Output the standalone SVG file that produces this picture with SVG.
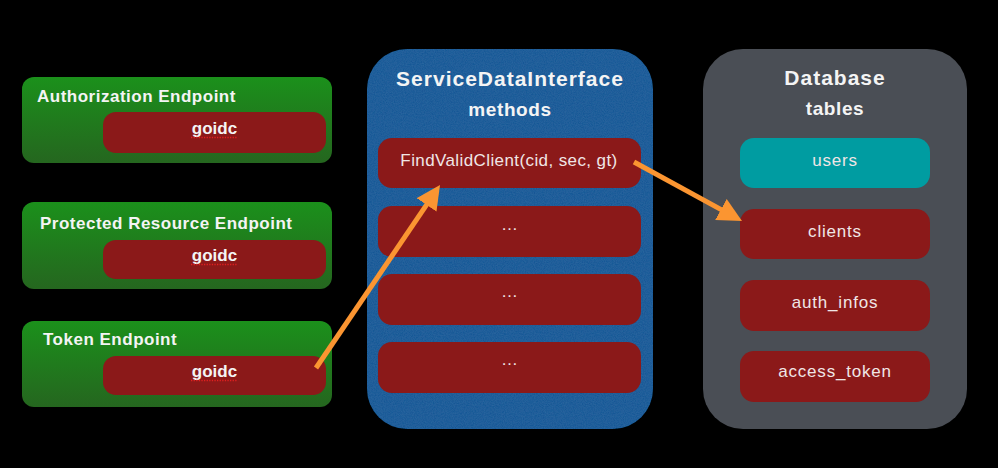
<svg xmlns="http://www.w3.org/2000/svg" width="998" height="468" viewBox="0 0 998 468">
<defs>
<style>
.bg{fill:#000}
.ep{fill:url(#greenGrad)}
.red{fill:#8b1919}
.teal{fill:#009ca1}
.ttl{font-family:"Liberation Sans",Arial,sans-serif;font-weight:bold;font-size:17px;fill:#f4f4f4;letter-spacing:0.5px}
.gd{font-family:"Liberation Sans",Arial,sans-serif;font-weight:bold;font-size:17px;fill:#f4f4f4;text-anchor:middle}
.ph{font-family:"Liberation Sans",Arial,sans-serif;font-weight:bold;font-size:21px;fill:#f4f4f4;text-anchor:middle;letter-spacing:1px}
.sub{font-family:"Liberation Sans",Arial,sans-serif;font-weight:bold;font-size:19px;fill:#f4f4f4;text-anchor:middle;letter-spacing:0.6px}
.lbl{font-family:"Liberation Sans",Arial,sans-serif;font-size:17px;fill:#f0e6e6;text-anchor:middle;letter-spacing:0.8px}
.sq{stroke:#e02020;stroke-width:1.3;stroke-dasharray:1.3 1.3;fill:none}
.conn{stroke:#fb9531;stroke-width:5;fill:none;marker-end:url(#ah)}
</style>
<linearGradient id="greenGrad" x1="0" y1="0" x2="0" y2="1">
<stop offset="0" stop-color="#1b901b"/>
<stop offset="1" stop-color="#25661f"/>
</linearGradient>
<filter id="noise" x="0" y="0" width="100%" height="100%">
<feTurbulence type="fractalNoise" baseFrequency="0.9" numOctaves="2" seed="3" result="t"/>
<feColorMatrix in="t" type="matrix" values="0 0 0 0 0.08  0 0 0 0 0.3  0 0 0 0 0.55  0 0 0 0.25 -0.05" result="n"/>
<feComposite in="n" in2="SourceGraphic" operator="in" result="nc"/>
<feMerge><feMergeNode in="SourceGraphic"/><feMergeNode in="nc"/></feMerge>
</filter>
<marker id="ah" viewBox="0 0 24 24" markerWidth="24" markerHeight="24" refX="6" refY="12" orient="auto" markerUnits="userSpaceOnUse">
<path d="M0,0 L24,12 L0,24 Z" fill="#fb9531"/>
</marker>
</defs>
<rect class="bg" x="0" y="0" width="998" height="468"/>

<g id="authorization-endpoint">
<rect class="ep" x="22" y="77" width="310" height="86" rx="12"/>
<text class="ttl" x="37" y="102">Authorization Endpoint</text>
<rect class="red" x="103" y="112" width="223" height="41" rx="13"/>
<text class="gd" x="214.5" y="134">goidc</text>
<line class="sq" x1="191" y1="137.5" x2="237" y2="137.5"/>
</g>

<g id="protected-resource-endpoint">
<rect class="ep" x="22" y="202" width="310" height="87" rx="12"/>
<text class="ttl" x="40" y="229">Protected Resource Endpoint</text>
<rect class="red" x="103" y="240" width="223" height="39" rx="13"/>
<text class="gd" x="214.5" y="261">goidc</text>
<line class="sq" x1="191" y1="264.5" x2="237" y2="264.5"/>
</g>

<g id="token-endpoint">
<rect class="ep" x="22" y="321" width="310" height="86" rx="12"/>
<text class="ttl" x="43" y="345">Token Endpoint</text>
<rect class="red" x="103" y="356" width="223" height="39" rx="13"/>
<text class="gd" x="214.5" y="377">goidc</text>
<line class="sq" x1="191" y1="380.5" x2="237" y2="380.5"/>
</g>

<g id="service-data-interface">
<rect x="367" y="49" width="286" height="380" rx="40" fill="#1a5896" filter="url(#noise)"/>
<text class="ph" x="510" y="86">ServiceDataInterface</text>
<text class="sub" x="510" y="116">methods</text>
<rect class="red" x="378" y="138" width="263" height="50" rx="14"/>
<text class="lbl" x="509" y="166" style="letter-spacing:0.4px">FindValidClient(cid, sec, gt)</text>
<rect class="red" x="378" y="206" width="263" height="51" rx="14"/>
<text class="lbl" x="510" y="230">…</text>
<rect class="red" x="378" y="274" width="263" height="51" rx="14"/>
<text class="lbl" x="510" y="297">…</text>
<rect class="red" x="378" y="342" width="263" height="51" rx="14"/>
<text class="lbl" x="510" y="365">…</text>
</g>

<g id="database">
<rect x="703" y="49" width="264" height="380" rx="40" fill="#4a4e55"/>
<text class="ph" x="835" y="85">Database</text>
<text class="sub" x="835" y="115">tables</text>
<rect class="teal" x="740" y="138" width="190" height="50" rx="14"/>
<text class="lbl" x="835" y="166">users</text>
<rect class="red" x="740" y="209" width="190" height="50" rx="14"/>
<text class="lbl" x="835" y="237">clients</text>
<rect class="red" x="740" y="280" width="190" height="51" rx="14"/>
<text class="lbl" x="835" y="308">auth_infos</text>
<rect class="red" x="740" y="351" width="190" height="51" rx="14"/>
<text class="lbl" x="835" y="377">access_token</text>
</g>

<g id="connectors">
<path class="conn" d="M316,368 L429.9,199.9"/>
<path class="conn" d="M634,162 L726.2,212.4"/>
</g>
</svg>
